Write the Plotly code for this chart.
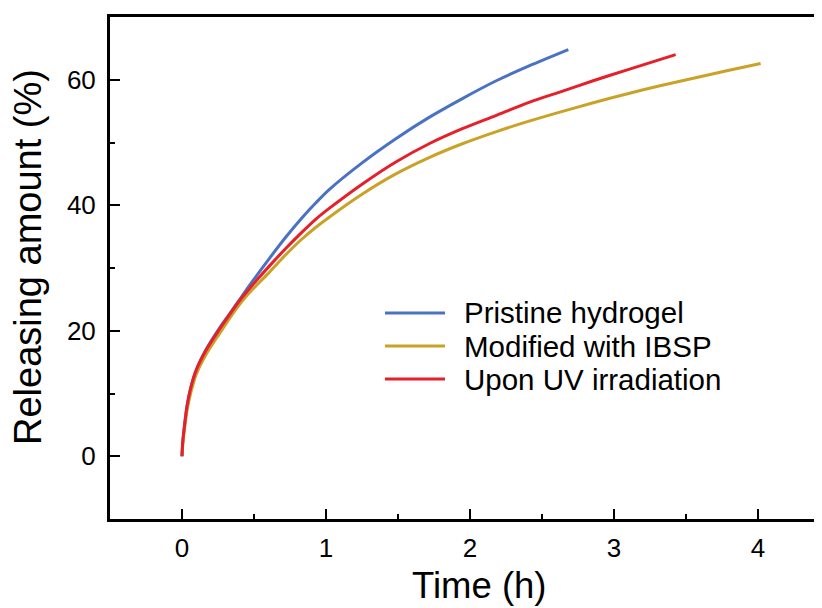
import plotly.graph_objects as go

# Time (h) and releasing amount (%)
pristine_t = [0, 0.005, 0.016, 0.035, 0.062, 0.10, 0.167, 0.259, 0.34, 0.41, 0.49,
              0.606, 0.72, 0.837, 0.93, 1.022, 1.253, 1.485, 1.716, 1.947, 2.179,
              2.41, 2.683]
pristine_y = [0, 2.2, 4.6, 8.0, 11.0, 13.8, 17.0, 20.4, 23.0, 25.3, 27.9,
              31.5, 34.9, 38.1, 40.4, 42.5, 46.8, 50.6, 54.0, 57.0, 59.8,
              62.2, 64.8]

ibsp_t = [0, 0.005, 0.016, 0.035, 0.062, 0.10, 0.167, 0.259, 0.34, 0.41, 0.49,
          0.606, 0.72, 0.837, 0.93, 1.022, 1.253, 1.485, 1.716, 1.947, 2.179,
          2.41, 2.618, 2.85, 3.081, 3.312, 3.543, 3.775, 4.018]
ibsp_y = [0, 1.9, 4.1, 7.3, 10.2, 13.1, 16.2, 19.5, 22.3, 24.5, 26.6,
          29.3, 32.1, 34.7, 36.5, 38.1, 41.8, 45.0, 47.6, 49.8, 51.7,
          53.4, 54.8, 56.3, 57.7, 59.0, 60.2, 61.4, 62.6]

uv_t = [0, 0.005, 0.016, 0.035, 0.062, 0.10, 0.167, 0.259, 0.34, 0.41, 0.49,
        0.606, 0.72, 0.837, 0.93, 1.022, 1.253, 1.485, 1.716, 1.947, 2.179,
        2.41, 2.618, 2.85, 3.081, 3.428]
uv_y = [0, 2.2, 4.6, 8.0, 11.0, 13.8, 16.9, 20.2, 22.9, 25.1, 27.3,
        30.3, 33.1, 35.8, 37.8, 39.5, 43.4, 46.9, 49.8, 52.2, 54.3,
        56.4, 58.0, 59.8, 61.5, 64.0]

names = ["Pristine hydrogel", "Modified with IBSP", "Upon UV irradiation"]
colors = ["#4a72c4", "#c9a227", "#e5202a"]

# the page adds an 8px body margin, so screen pixels = figure pixels + 8
PAGE = 8
W, H = 822, 608
L, R, T, B = 102, 0, 9, 97
FONT = "Arial, Liberation Sans, sans-serif"


def px_x(px):
    return (px - PAGE - L) / (W - L - R)


def px_y(py):
    return (H - B - (py - PAGE)) / (H - B - T)


fig = go.Figure()
for t, y, c in [(pristine_t, pristine_y, colors[0]),
                (ibsp_t, ibsp_y, colors[1]),
                (uv_t, uv_y, colors[2])]:
    fig.add_trace(go.Scatter(x=t, y=y, mode="lines",
                             line=dict(color=c, width=3, shape="spline", smoothing=0.8),
                             showlegend=False))

# legend drawn by hand so the sample lines are as long as in the original
legend_rows = [313, 346, 379]
for name, c, ry in zip(names, colors, legend_rows):
    fig.add_shape(type="line", xref="paper", yref="paper",
                  x0=px_x(385), x1=px_x(445), y0=px_y(ry), y1=px_y(ry),
                  line=dict(color=c, width=3))
    fig.add_annotation(text=name, xref="paper", yref="paper",
                       x=px_x(462), y=px_y(ry), xanchor="left", yanchor="middle",
                       showarrow=False, font=dict(size=29.5, color="black", family=FONT))

fig.add_annotation(text="Time (h)", xref="paper", yref="paper",
                   x=px_x(480), y=px_y(586), xanchor="center", yanchor="middle",
                   showarrow=False, font=dict(size=36.5, color="black", family=FONT))
fig.add_annotation(text="Releasing amount (%)", xref="paper", yref="paper",
                   x=px_x(28), y=px_y(257), xanchor="center", yanchor="middle",
                   textangle=-90, showarrow=False,
                   font=dict(size=38, color="black", family=FONT))

fig.update_layout(
    width=W, height=H,
    margin=dict(l=L, r=R, t=T, b=B),
    plot_bgcolor="white", paper_bgcolor="white",
    font=dict(family=FONT, color="black", size=26),
    showlegend=False,
)
fig.update_xaxes(range=[-0.5, 4.5], tick0=0, dtick=1,
                 showline=True, linecolor="black", linewidth=3, mirror=True,
                 ticks="inside", ticklen=10, tickwidth=2, tickcolor="black",
                 minor=dict(ticks="inside", ticklen=5, tickwidth=2, dtick=0.5,
                            tickcolor="black"),
                 showgrid=False, zeroline=False, ticklabelstandoff=4)
fig.update_yaxes(range=[-10, 70], tick0=0, dtick=20,
                 showline=True, linecolor="black", linewidth=3, mirror=False,
                 ticks="inside", ticklen=10, tickwidth=2, tickcolor="black",
                 minor=dict(ticks="inside", ticklen=5, tickwidth=2, dtick=10,
                            tickcolor="black"),
                 showgrid=False, zeroline=False, ticklabelstandoff=6)

fig.write_html("out.html")
